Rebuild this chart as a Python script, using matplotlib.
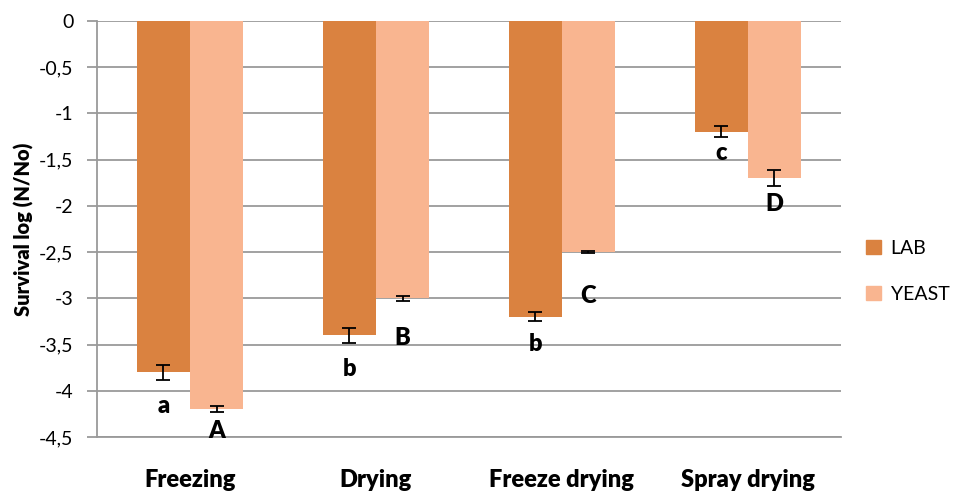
import matplotlib
matplotlib.use("Agg")
import matplotlib.pyplot as plt
import numpy as np
from matplotlib.patches import Patch

categories = ["Freezing", "Drying", "Freeze drying", "Spray drying"]
lab_values = [-3.8, -3.4, -3.2, -1.2]
lab_errors = [0.08, 0.08, 0.05, 0.06]
yeast_values = [-4.2, -3.0, -2.5, -1.7]
yeast_errors = [0.03, 0.03, 0.01, 0.09]
lab_letters = ["a", "b", "b", "c"]
yeast_letters = ["A", "B", "C", "D"]
lab_letter_y = [-4.17, -3.76, -3.49, -1.43]
yeast_letter_y = [-4.43, -3.43, -2.98, -1.98]
yticks = [0, -0.5, -1, -1.5, -2, -2.5, -3, -3.5, -4, -4.5]

LAB_C = "#DA8240"
YEAST_C = "#F9B590"
FONT = ["Lato", "DejaVu Sans"]
plt.rcParams["font.family"] = FONT

fig = plt.figure(figsize=(9.7, 4.93), dpi=100)
ax = fig.add_axes([0.1, 0.1136, 0.767, 0.8438])

x = np.arange(len(categories))
w = 0.285
ax.bar(x - w / 2, lab_values, w, color=LAB_C, zorder=2)
ax.bar(x + w / 2, yeast_values, w, color=YEAST_C, zorder=2)
ax.errorbar(x - w / 2, lab_values, yerr=lab_errors, fmt="none", ecolor="black",
            elinewidth=1.3, capsize=5, capthick=1.3, zorder=3)
ax.errorbar(x + w / 2, yeast_values, yerr=yeast_errors, fmt="none", ecolor="black",
            elinewidth=1.3, capsize=5, capthick=1.3, zorder=3)

for xi, t, yy in zip(x - w / 2, lab_letters, lab_letter_y):
    ax.text(xi, yy, t, ha="center", va="center", fontsize=17, fontweight="heavy", zorder=4)
for xi, t, yy in zip(x + w / 2, yeast_letters, yeast_letter_y):
    ax.text(xi, yy, t, ha="center", va="center", fontsize=17, fontweight="heavy", zorder=4)

ax.set_xlim(-0.5, len(categories) - 0.5)
ax.set_ylim(-4.5, 0)
ax.set_yticks(yticks)
ax.set_yticklabels([("%g" % v).replace(".", ",") for v in yticks], fontsize=14)
ax.yaxis.grid(True, color="#9A9A9A", linewidth=1.3, zorder=0)
ax.set_axisbelow(True)
ax.set_xticks([])
for s in ["top", "right"]:
    ax.spines[s].set_visible(False)
ax.spines["left"].set_color("#9A9A9A")
ax.spines["bottom"].set_color("#9A9A9A")
ax.spines["left"].set_linewidth(1.3)
ax.spines["bottom"].set_linewidth(1.3)
ax.tick_params(axis="y", length=7, color="#9A9A9A", width=1.3, pad=10)

for xi, c in zip(x, categories):
    ax.text(xi, -5.04, c, ha="center", va="baseline", fontsize=17, fontweight="heavy")

ax.set_ylabel("Survival log (N/No)", fontsize=14.5, fontweight="heavy")
ax.yaxis.set_label_coords(-0.085, 0.5)

handles = [Patch(color=LAB_C, label="LAB"), Patch(color=YEAST_C, label="YEAST")]
fig.legend(handles=handles, loc="center left", bbox_to_anchor=(0.893, 0.45),
           frameon=False, fontsize=14, handlelength=0.75, handleheight=0.75,
           labelspacing=1.5, handletextpad=0.5, borderaxespad=0, borderpad=0)

fig.savefig("out.png", dpi=100)
